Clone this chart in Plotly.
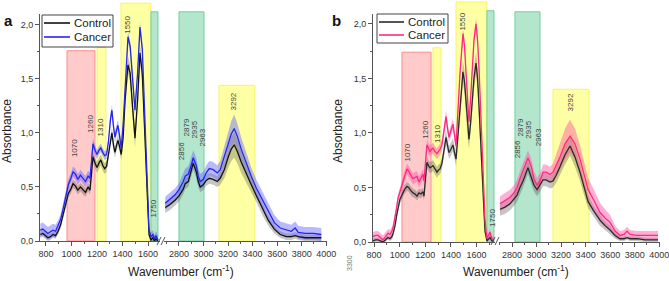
import plotly.graph_objects as go

W, H = 669, 281
FONT = "Arial, Liberation Sans, sans-serif"
AX = "#555555"

# ---------------- data ----------------
series_names = ["Control", "Cancer"]

# Panel a, low-wavenumber segment
x_a1 = [755, 775, 795, 815, 835, 855, 875, 895, 915, 935,
        955, 975, 995, 1012, 1030, 1050, 1070, 1090, 1110, 1130,
        1145, 1158, 1168, 1185, 1200, 1215, 1230, 1245, 1260, 1275,
        1290, 1305, 1317, 1330, 1341, 1352, 1364, 1376, 1390, 1405,
        1420, 1443, 1460, 1480, 1498, 1518, 1537, 1555, 1572, 1590,
        1608, 1623, 1638, 1650, 1662, 1678]
cancer_a1 = [0.10, 0.11, 0.09, 0.07, 0.085, 0.10, 0.09, 0.14, 0.20, 0.30,
             0.42, 0.52, 0.58, 0.64, 0.62, 0.57, 0.61, 0.58, 0.55, 0.60,
             0.58, 0.75, 0.90, 0.84, 0.80, 0.84, 0.86, 0.82, 0.79, 0.80,
             0.92, 1.12, 1.21, 1.05, 0.96, 1.02, 1.07, 0.98, 0.86, 1.08,
             1.45, 1.89, 1.80, 1.45, 1.21, 1.55, 1.98, 1.78, 1.25, 0.55,
             0.10, 0.04, 0.06, 0.02, 0.05, 0.01]
control_a1 = [0.06, 0.07, 0.05, 0.03, 0.04, 0.06, 0.05, 0.09, 0.15, 0.25,
              0.35, 0.44, 0.48, 0.53, 0.51, 0.47, 0.50, 0.47, 0.45, 0.50,
              0.47, 0.64, 0.78, 0.72, 0.68, 0.72, 0.75, 0.70, 0.67, 0.69,
              0.80, 0.94, 1.00, 0.88, 0.82, 0.88, 0.93, 0.88, 0.80, 0.96,
              1.30, 1.63, 1.55, 1.22, 0.95, 1.30, 1.74, 1.55, 1.05, 0.45,
              0.06, 0.01, 0.03, 0.00, 0.02, 0.00]
sd_cancer_a1 = [0.06, 0.06, 0.06, 0.06, 0.06, 0.06, 0.06, 0.05, 0.05, 0.05,
                0.05, 0.05, 0.05, 0.05, 0.05, 0.05, 0.05, 0.05, 0.05, 0.05,
                0.05, 0.05, 0.05, 0.05, 0.04, 0.04, 0.04, 0.04, 0.04, 0.04,
                0.04, 0.05, 0.05, 0.05, 0.05, 0.05, 0.05, 0.05, 0.05, 0.05,
                0.05, 0.05, 0.05, 0.05, 0.06, 0.05, 0.05, 0.05, 0.05, 0.05,
                0.04, 0.04, 0.04, 0.04, 0.04, 0.04]
sd_control_a1 = [0.03, 0.03, 0.03, 0.03, 0.03, 0.03, 0.03, 0.03, 0.03, 0.04,
                 0.04, 0.04, 0.04, 0.04, 0.04, 0.04, 0.04, 0.04, 0.04, 0.04,
                 0.04, 0.05, 0.05, 0.05, 0.05, 0.05, 0.05, 0.05, 0.05, 0.05,
                 0.05, 0.05, 0.05, 0.05, 0.05, 0.05, 0.05, 0.05, 0.05, 0.06,
                 0.07, 0.08, 0.08, 0.08, 0.09, 0.08, 0.08, 0.08, 0.07, 0.05,
                 0.03, 0.03, 0.03, 0.03, 0.03, 0.03]

# Panel a, high-wavenumber segment
x_a2 = [2688, 2729, 2770, 2802, 2835, 2851, 2876, 2900, 2916, 2941,
        2957, 2973, 2998, 3022, 3047, 3079, 3112, 3136, 3169, 3202,
        3226, 3250, 3275, 3307, 3348, 3389, 3430, 3479, 3528, 3577,
        3625, 3674, 3715, 3747, 3772, 3829, 3894, 3960]
cancer_a2 = [0.35, 0.39, 0.43, 0.48, 0.55, 0.60, 0.62, 0.70, 0.77, 0.70,
             0.60, 0.55, 0.57, 0.63, 0.67, 0.66, 0.63, 0.66, 0.78, 0.91,
             0.99, 1.04, 0.97, 0.85, 0.72, 0.60, 0.49, 0.38, 0.27, 0.17,
             0.12, 0.10, 0.09, 0.12, 0.08, 0.07, 0.07, 0.06]
control_a2 = [0.31, 0.34, 0.38, 0.42, 0.48, 0.53, 0.55, 0.65, 0.72, 0.64,
              0.55, 0.50, 0.52, 0.56, 0.58, 0.57, 0.55, 0.58, 0.66, 0.78,
              0.85, 0.89, 0.83, 0.73, 0.62, 0.52, 0.42, 0.30, 0.19, 0.11,
              0.06, 0.04, 0.04, 0.05, 0.04, 0.03, 0.03, 0.03]
sd_cancer_a2 = [0.06, 0.06, 0.06, 0.06, 0.07, 0.07, 0.07, 0.07, 0.07, 0.07,
                0.07, 0.07, 0.07, 0.07, 0.07, 0.07, 0.07, 0.08, 0.09, 0.11,
                0.12, 0.13, 0.12, 0.11, 0.09, 0.08, 0.08, 0.08, 0.08, 0.07,
                0.06, 0.06, 0.06, 0.06, 0.06, 0.06, 0.06, 0.06]
sd_control_a2 = [0.05, 0.05, 0.05, 0.05, 0.05, 0.05, 0.05, 0.06, 0.06, 0.06,
                 0.05, 0.05, 0.05, 0.05, 0.05, 0.05, 0.05, 0.06, 0.08, 0.10,
                 0.11, 0.12, 0.11, 0.10, 0.08, 0.07, 0.06, 0.06, 0.05, 0.04,
                 0.03, 0.03, 0.03, 0.03, 0.03, 0.03, 0.03, 0.03]

# Panel b, low-wavenumber segment
x_b1 = [792, 812, 831, 850, 870, 890, 909, 925, 940, 952,
        964, 976, 987, 1002, 1018, 1038, 1057, 1070, 1081, 1093,
        1104, 1120, 1135, 1151, 1166, 1182, 1190, 1200, 1213, 1225,
        1237, 1249, 1260, 1276, 1291, 1303, 1315, 1330, 1346, 1362,
        1374, 1385, 1400, 1416, 1428, 1440, 1455, 1471, 1494, 1506,
        1518, 1530, 1541, 1553, 1565, 1580, 1596, 1608, 1619, 1631,
        1642, 1654, 1666, 1681, 1693, 1705, 1720, 1736]
cancer_b1 = [0.05, 0.06, 0.06, 0.04, 0.02, 0.05, 0.08, 0.07, 0.10, 0.15,
             0.22, 0.31, 0.40, 0.47, 0.52, 0.60, 0.67, 0.65, 0.62, 0.60,
             0.58, 0.59, 0.60, 0.55, 0.58, 0.62, 0.56, 0.70, 0.89, 0.86,
             0.83, 0.85, 0.86, 0.83, 0.81, 0.83, 0.85, 0.89, 1.02, 1.15,
             1.04, 0.96, 1.02, 1.08, 0.98, 0.88, 1.20, 1.55, 1.91, 1.80,
             1.55, 1.25, 1.10, 1.30, 1.55, 1.85, 2.00, 1.85, 1.60, 1.25,
             0.90, 0.50, 0.20, 0.03, 0.06, 0.09, 0.03, 0.02]
control_b1 = [0.01, 0.02, 0.02, 0.01, 0.00, 0.02, 0.04, 0.03, 0.05, 0.09,
              0.15, 0.24, 0.32, 0.39, 0.43, 0.48, 0.51, 0.50, 0.48, 0.46,
              0.45, 0.44, 0.42, 0.45, 0.44, 0.46, 0.42, 0.56, 0.73, 0.70,
              0.68, 0.69, 0.70, 0.67, 0.64, 0.66, 0.67, 0.72, 0.85, 0.96,
              0.88, 0.82, 0.85, 0.89, 0.82, 0.76, 0.98, 1.25, 1.56, 1.47,
              1.28, 1.05, 0.94, 1.08, 1.28, 1.50, 1.64, 1.50, 1.25, 0.95,
              0.62, 0.30, 0.10, 0.01, 0.03, 0.04, 0.01, 0.01]
sd_cancer_b1 = [0.04, 0.04, 0.04, 0.04, 0.04, 0.04, 0.04, 0.04, 0.04, 0.04,
                0.04, 0.04, 0.04, 0.04, 0.04, 0.05, 0.05, 0.05, 0.05, 0.05,
                0.05, 0.05, 0.05, 0.05, 0.05, 0.05, 0.05, 0.05, 0.05, 0.05,
                0.05, 0.05, 0.05, 0.05, 0.05, 0.05, 0.05, 0.05, 0.05, 0.06,
                0.05, 0.05, 0.05, 0.05, 0.05, 0.05, 0.05, 0.05, 0.05, 0.05,
                0.05, 0.05, 0.05, 0.05, 0.05, 0.05, 0.05, 0.05, 0.05, 0.05,
                0.05, 0.04, 0.04, 0.03, 0.03, 0.03, 0.03, 0.03]
sd_control_b1 = [0.02, 0.02, 0.02, 0.02, 0.02, 0.02, 0.02, 0.02, 0.03, 0.03,
                 0.03, 0.04, 0.04, 0.04, 0.04, 0.04, 0.04, 0.04, 0.04, 0.04,
                 0.04, 0.04, 0.04, 0.04, 0.04, 0.04, 0.04, 0.05, 0.05, 0.05,
                 0.05, 0.05, 0.05, 0.05, 0.05, 0.05, 0.05, 0.05, 0.06, 0.07,
                 0.06, 0.06, 0.06, 0.06, 0.06, 0.06, 0.07, 0.09, 0.10, 0.10,
                 0.10, 0.09, 0.09, 0.09, 0.10, 0.10, 0.10, 0.10, 0.10, 0.09,
                 0.07, 0.05, 0.03, 0.02, 0.02, 0.02, 0.02, 0.02]

# Panel b, high-wavenumber segment
x_b2 = [2702, 2743, 2784, 2816, 2841, 2865, 2890, 2930, 2955, 2979,
        3004, 3028, 3053, 3077, 3110, 3134, 3159, 3191, 3232, 3273,
        3313, 3354, 3387, 3420, 3468, 3517, 3558, 3599, 3640, 3680,
        3713, 3737, 3762, 3819, 3884, 3941, 3990]
cancer_b2 = [0.35, 0.38, 0.41, 0.45, 0.50, 0.58, 0.65, 0.77, 0.70, 0.58,
             0.52, 0.56, 0.64, 0.64, 0.62, 0.64, 0.70, 0.78, 0.90, 0.97,
             0.90, 0.76, 0.62, 0.48, 0.38, 0.27, 0.22, 0.18, 0.10, 0.06,
             0.07, 0.10, 0.07, 0.06, 0.06, 0.06, 0.06]
control_b2 = [0.30, 0.32, 0.35, 0.39, 0.43, 0.50, 0.56, 0.68, 0.60, 0.52,
              0.48, 0.52, 0.57, 0.57, 0.55, 0.56, 0.61, 0.69, 0.80, 0.88,
              0.78, 0.64, 0.50, 0.37, 0.28, 0.20, 0.15, 0.11, 0.06, 0.03,
              0.03, 0.04, 0.03, 0.03, 0.02, 0.02, 0.02]
sd_cancer_b2 = [0.07, 0.07, 0.07, 0.07, 0.07, 0.07, 0.07, 0.07, 0.07, 0.07,
                0.07, 0.07, 0.07, 0.07, 0.07, 0.08, 0.10, 0.12, 0.14, 0.15,
                0.14, 0.13, 0.12, 0.11, 0.10, 0.09, 0.08, 0.07, 0.05, 0.04,
                0.04, 0.04, 0.04, 0.04, 0.04, 0.04, 0.04]
sd_control_b2 = [0.06, 0.06, 0.06, 0.06, 0.06, 0.06, 0.06, 0.06, 0.06, 0.06,
                 0.06, 0.06, 0.06, 0.06, 0.06, 0.06, 0.07, 0.08, 0.09, 0.09,
                 0.09, 0.08, 0.07, 0.06, 0.05, 0.05, 0.04, 0.04, 0.03, 0.02,
                 0.02, 0.02, 0.02, 0.02, 0.02, 0.02, 0.02]

# Highlighted regions: (x0, x1, top absorbance, colour), per panel / segment
regions_a1 = [(965, 1184, 1.76, "red"), (1200, 1270, 1.79, "yellow"),
              (1388, 1623, 2.20, "yellow"), (1623, 1678, 2.12, "green")]
regions_a2 = [(2800, 3004, 2.12, "green"), (3126, 3419, 1.44, "yellow")]
regions_b1 = [(1018, 1245, 1.74, "red"), (1260, 1323, 1.78, "yellow"),
              (1440, 1681, 2.20, "yellow"), (1681, 1736, 2.12, "green")]
regions_b2 = [(2824, 3028, 2.11, "green"), (3134, 3428, 1.40, "yellow")]

# Peak labels
peak_labels_low = ["1070", "1260", "1310", "1550", "1650", "1750"]
peak_labels_high = ["2856", "2879", "2935", "2963", "3292"]
lab_x_a1 = [1020, 1150, 1231, 1443, 1537, 1647]
lab_y_a1 = [0.86, 1.08, 1.05, 2.00, 2.11, 0.30]
lab_x_a2 = [2816, 2865, 2930, 2990, 3248]
lab_y_a2 = [0.83, 1.05, 1.03, 0.96, 1.29]
lab_x_b1 = [1065, 1206, 1291, 1494, 1596, 1720]
lab_y_b1 = [0.82, 1.03, 0.99, 2.02, 2.11, 0.22]
lab_x_b2 = [2841, 2865, 2939, 3012, 3273]
lab_y_b2 = [0.85, 1.05, 1.03, 0.96, 1.28]

y_tickvals = [0, 0.5, 1.0, 1.5, 2.0]
y_ticktext = ["0,0", "0,5", "1,0", "1,5", "2,0"]
x_low_ticks = [800, 1000, 1200, 1400, 1600]
x_high_ticks = [2800, 3000, 3200, 3400, 3600, 3800, 4000]

# ---------------- styles ----------------
REGION_STYLE = {
    "red": ("#ffcaca", "#ff8c8c"),
    "yellow": ("#ffffa3", "#f4f46a"),
    "green": ("#b3e6cc", "#72cf9f"),
}
CONTROL_A, CANCER_A = "#111111", "#2525f0"
CONTROL_B, CANCER_B = "#2a2a2a", "#ff2a80"
GRAY_BAND = "rgba(80,80,80,0.33)"
BLUE_BAND = "rgba(100,100,255,0.45)"
PINK_BAND = "rgba(255,80,160,0.45)"

fig = go.Figure()


def add_band(x, m, s, color, xa, ya):
    up = [a + b for a, b in zip(m, s)]
    lo = [a - b for a, b in zip(m, s)]
    fig.add_trace(go.Scatter(
        x=list(x) + list(x)[::-1], y=up + lo[::-1], fill="toself",
        fillcolor=color, line=dict(width=0), mode="lines",
        xaxis=xa, yaxis=ya, showlegend=False, hoverinfo="skip"))


def add_line(x, m, color, xa, ya, name):
    fig.add_trace(go.Scatter(
        x=x, y=m, mode="lines", line=dict(color=color, width=1.3),
        xaxis=xa, yaxis=ya, name=name, showlegend=False, hoverinfo="skip"))


# Panel a
for (x, c, sc, k, sk, xa) in [(x_a1, control_a1, sd_control_a1, cancer_a1, sd_cancer_a1, "x"),
                              (x_a2, control_a2, sd_control_a2, cancer_a2, sd_cancer_a2, "x2")]:
    add_band(x, c, sc, GRAY_BAND, xa, "y")
    add_band(x, k, sk, BLUE_BAND, xa, "y")
    add_line(x, c, CONTROL_A, xa, "y", series_names[0])
    add_line(x, k, CANCER_A, xa, "y", series_names[1])

# Panel b
for (x, c, sc, k, sk, xa) in [(x_b1, control_b1, sd_control_b1, cancer_b1, sd_cancer_b1, "x3"),
                              (x_b2, control_b2, sd_control_b2, cancer_b2, sd_cancer_b2, "x4")]:
    add_band(x, c, sc, GRAY_BAND, xa, "y2")
    add_band(x, k, sk, PINK_BAND, xa, "y2")
    add_line(x, c, CONTROL_B, xa, "y2", series_names[0])
    add_line(x, k, CANCER_B, xa, "y2", series_names[1])

# ---------------- layout ----------------
def px(xp):
    return xp / W


def py(yp):
    return 1 - yp / H


YMAX_A, YMAX_B = 2.10, 2.09

shapes = []
for regs, xref, yref, ymax in [(regions_a1, "x", "y", YMAX_A), (regions_a2, "x2", "y", YMAX_A),
                               (regions_b1, "x3", "y2", YMAX_B), (regions_b2, "x4", "y2", YMAX_B)]:
    for x0, x1, top, kind in regs:
        fill, edge = REGION_STYLE[kind]
        shapes.append(dict(type="rect", xref=xref, yref=yref + " domain",
                           x0=x0, x1=x1, y0=0, y1=top / ymax,
                           fillcolor=fill, line=dict(color=edge, width=1),
                           layer="below"))

# axis-break marks
for xs in [(157, 161), (491, 495)]:
    for dx in (0, 4):
        shapes.append(dict(type="line", xref="paper", yref="paper",
                           x0=px(xs[0] + dx), y0=py(245), x1=px(xs[1] + dx), y1=py(237),
                           line=dict(color=AX, width=1)))

annotations = []

# legends (box, line keys, labels)
legend_font = dict(family=FONT, size=11.5, color="#222222")
for (bx0, by0, bx1, by1, lx0, lx1, rows, colors) in [
        (42, 15, 113, 47, 44, 70, (23, 37), (CONTROL_A, CANCER_A)),
        (377, 14, 448, 43, 379, 404, (22, 35), (CONTROL_B, CANCER_B))]:
    shapes.append(dict(type="rect", xref="paper", yref="paper",
                       x0=px(bx0), x1=px(bx1), y0=py(by1), y1=py(by0),
                       fillcolor="white", line=dict(color="#444444", width=1),
                       layer="above"))
    for name, ry, col in zip(series_names, rows, colors):
        shapes.append(dict(type="line", xref="paper", yref="paper",
                           x0=px(lx0), x1=px(lx1), y0=py(ry), y1=py(ry),
                           line=dict(color=col, width=1.6), layer="above"))
        annotations.append(dict(text=name, x=px(lx1 + 2), y=py(ry), xref="paper", yref="paper",
                                showarrow=False, font=legend_font,
                                xanchor="left", yanchor="middle"))

lab_font = dict(family=FONT, size=8, color="#444444")
for labels, xs, ys, xref, yref in [(peak_labels_low, lab_x_a1, lab_y_a1, "x", "y"),
                                   (peak_labels_high, lab_x_a2, lab_y_a2, "x2", "y"),
                                   (peak_labels_low, lab_x_b1, lab_y_b1, "x3", "y2"),
                                   (peak_labels_high, lab_x_b2, lab_y_b2, "x4", "y2")]:
    for t, x, y in zip(labels, xs, ys):
        annotations.append(dict(text=t, x=x, y=y, xref=xref, yref=yref,
                                textangle=-90, showarrow=False, font=lab_font,
                                xanchor="center", yanchor="middle"))

title_font = dict(family=FONT, size=12, color="#222222")
for xp in (7, 338):
    annotations.append(dict(text="Absorbance", x=px(xp), y=py(131), xref="paper", yref="paper",
                            textangle=-90, showarrow=False, font=title_font,
                            xanchor="center", yanchor="middle"))
for xp in (181, 516):
    annotations.append(dict(text="Wavenumber (cm<sup>-1</sup>)", x=px(xp), y=py(271),
                            xref="paper", yref="paper", showarrow=False, font=title_font,
                            xanchor="center", yanchor="middle"))
for t, xp in (("a", 8), ("b", 336)):
    annotations.append(dict(text="<b>" + t + "</b>", x=px(xp), y=py(21), xref="paper", yref="paper",
                            showarrow=False, font=dict(family=FONT, size=15, color="#111111"),
                            xanchor="center", yanchor="middle"))
annotations.append(dict(text="3300", x=px(349), y=py(263), xref="paper", yref="paper",
                        textangle=-90, showarrow=False,
                        font=dict(family=FONT, size=7, color="#777777"),
                        xanchor="center", yanchor="middle"))

tick_font = dict(family=FONT, size=9, color="#333333")


def xaxis(domain, rng, ticks, anchor, minor_vals):
    return dict(domain=domain, range=rng, tickmode="array", tickvals=ticks,
                ticktext=[str(t) for t in ticks], showline=True, linecolor=AX,
                linewidth=1, ticks="outside", ticklen=4, tickcolor=AX,
                tickfont=tick_font, showgrid=False, zeroline=False, anchor=anchor,
                fixedrange=True, automargin=False, ticklabeloverflow="allow",
                minor=dict(ticks="outside", ticklen=2, tickcolor=AX,
                           tickmode="array", tickvals=minor_vals, showgrid=False))


def yaxis(domain, rng, anchor):
    return dict(domain=domain, range=rng, tickmode="array", tickvals=y_tickvals,
                ticktext=y_ticktext, showline=True, linecolor=AX, linewidth=1,
                ticks="outside", ticklen=4, tickcolor=AX, tickfont=tick_font,
                showgrid=False, zeroline=False, anchor=anchor, fixedrange=True,
                automargin=False, ticklabeloverflow="allow",
                minor=dict(ticks="outside", ticklen=2, tickcolor=AX,
                           tickmode="array", tickvals=[0.25, 0.75, 1.25, 1.75],
                           showgrid=False))


minor_low = [900, 1100, 1300, 1500, 1700]
minor_high = [2700, 2900, 3100, 3300, 3500, 3700, 3900]

fig.update_layout(
    width=W, height=H, autosize=False,
    margin=dict(l=0, r=0, t=0, b=0, autoexpand=False),
    paper_bgcolor="white", plot_bgcolor="rgba(0,0,0,0)",
    font=dict(family=FONT),
    xaxis=xaxis([px(40), px(160)], [753, 1694], x_low_ticks, "y", minor_low),
    xaxis2=xaxis([px(164), px(327)], [2678, 4006], x_high_ticks, "y", minor_high),
    yaxis=yaxis([py(241), py(14)], [0, YMAX_A], "x"),
    xaxis3=xaxis([px(373), px(495)], [792, 1744], x_low_ticks, "y2", minor_low),
    xaxis4=xaxis([px(499), px(660)], [2694, 4006], x_high_ticks, "y2", minor_high),
    yaxis2=yaxis([py(242), py(14)], [0, YMAX_B], "x3"),
    shapes=shapes,
    annotations=annotations,
    showlegend=False,
)

fig.write_html("out.html",
               config={"displayModeBar": False, "staticPlot": True},
               post_script="document.body.style.margin='0px';"
                           "document.body.style.overflow='hidden';")
